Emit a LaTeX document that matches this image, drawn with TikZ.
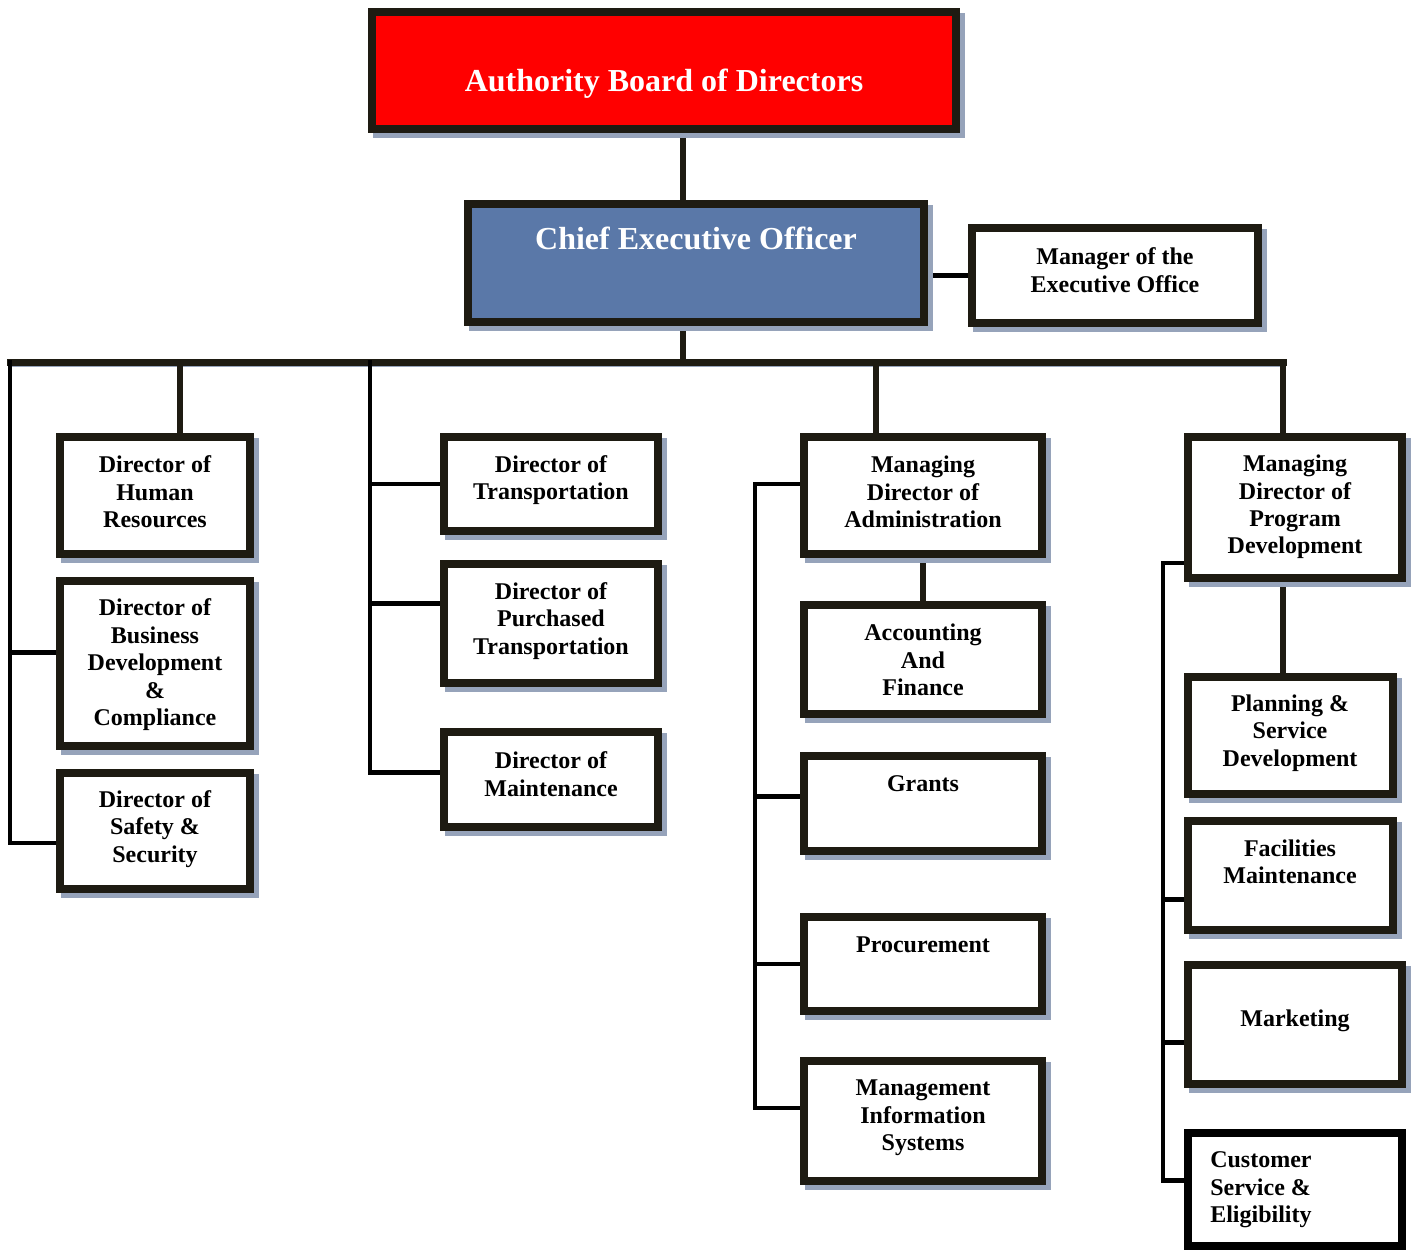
\documentclass[tikz,border=0pt]{standalone}
\usepackage{fontspec}
\setmainfont{Liberation Serif}
\usetikzlibrary{shadows,backgrounds}

\definecolor{inkline}{RGB}{30,27,18}
\definecolor{shadowblue}{RGB}{150,163,186}
\definecolor{boardred}{RGB}{255,0,0}
\definecolor{ceoblue}{RGB}{90,120,168}

\tikzset{every picture/.style={line width=0.75pt}}
\tikzset{
  orgbox/.style={draw=inkline, fill=white, line width=6pt, inner sep=0pt,
    general shadow={fill=shadowblue, draw=shadowblue, shadow xshift=3.5pt, shadow yshift=-3.5pt}},
  plainbox/.style={draw=black, fill=white, line width=6pt, inner sep=0pt},
  boxtext/.style={font=\fontsize{18}{20.6}\selectfont\bfseries, align=center, inner sep=0.75pt},
  titletext/.style={font=\fontsize{24}{28}\selectfont\bfseries, text=white, inner sep=0.75pt},
  busline/.style={draw=inkline, line width=5.25pt, line cap=rect,
    preaction={draw=shadowblue, transform canvas={xshift=1.5pt, yshift=-3pt}}},
  dropline/.style={draw=inkline, line width=4.5pt,
    preaction={draw=shadowblue, transform canvas={xshift=1.5pt, yshift=-1.5pt}}},
  armline/.style={draw=black, line width=3.5pt, line cap=rect},
}

\begin{document}
\begin{tikzpicture}[x=0.75pt,y=0.75pt,yscale=-1,xscale=1]
\useasboundingbox (0,0) rectangle (1413,1252);

%Shape: Rectangle [top row]
\node [orgbox, fill=boardred, minimum width=438pt, minimum height=87.75pt] (board) at (664,70.5) {};
\node [orgbox, fill=ceoblue, minimum width=342pt, minimum height=88.5pt] (ceo) at (696,263) {};
\node [orgbox, minimum width=214.5pt, minimum height=71.25pt] (mgr) at (1115,275.5) {};
%Shape: Rectangle [first column]
\node [orgbox, minimum width=142.5pt, minimum height=87.75pt] (hr) at (155,495.5) {};
\node [orgbox, minimum width=142.5pt, minimum height=123.75pt] (bizdev) at (155,663.5) {};
\node [orgbox, minimum width=142.5pt, minimum height=87pt] (safety) at (155,831) {};
%Shape: Rectangle [second column]
\node [orgbox, minimum width=160.5pt, minimum height=70.5pt] (trans) at (551,484) {};
\node [orgbox, minimum width=160.5pt, minimum height=89.25pt] (purch) at (551,623.5) {};
\node [orgbox, minimum width=160.5pt, minimum height=71.25pt] (maint) at (551,779.5) {};
%Shape: Rectangle [third column]
\node [orgbox, minimum width=178.5pt, minimum height=87.75pt] (admin) at (923,495.5) {};
\node [orgbox, minimum width=178.5pt, minimum height=81.75pt] (acct) at (923,659.5) {};
\node [orgbox, minimum width=178.5pt, minimum height=71.25pt] (grants) at (923,803.5) {};
\node [orgbox, minimum width=178.5pt, minimum height=70.5pt] (proc) at (923,964) {};
\node [orgbox, minimum width=178.5pt, minimum height=90pt] (mis) at (923,1121) {};
%Shape: Rectangle [fourth column]
\node [orgbox, minimum width=160.5pt, minimum height=105.75pt] (pd) at (1295,507.5) {};
\node [orgbox, minimum width=153.75pt, minimum height=87.75pt] (plan) at (1290.5,735.5) {};
\node [orgbox, minimum width=153.75pt, minimum height=81.75pt] (fac) at (1290.5,875.5) {};
\node [orgbox, minimum width=160.5pt, minimum height=89.25pt] (mkt) at (1295,1024.5) {};
\node [plainbox, minimum width=160.5pt, minimum height=84.75pt] (cust) at (1295,1189.5) {};

%Junctions on the bus and rails
\coordinate (busL) at (10,362);
\coordinate (busHR) at (180,362);
\coordinate (busOps) at (370,362);
\coordinate (busC) at (683,362);
\coordinate (busAdm) at (876,362);
\coordinate (busR) at (1283,362);
\coordinate (admRail) at (755,484);
\coordinate (pdRail) at (1163,563);

\begin{pgfonlayer}{background}
%Straight Lines [top]
\draw [dropline] (board.south -| busC) -- (ceo.north -| busC);
\draw [dropline] (ceo.south -| busC) -- (busC);
\draw [armline] (ceo.east |- mgr.west) -- (mgr.west);
\draw [busline] (busL) -- (busR);
%Straight Lines [first column]
\draw [armline] (busL) |- ([shift={(0,-11)}]bizdev.west);
\draw [armline] (busL) |- ([shift={(0,12)}]safety.west);
\draw [dropline] (busHR) -- (hr.north -| busHR);
%Straight Lines [second column]
\draw [armline] (busOps) |- (trans.west);
\draw [armline] (busOps) |- ([shift={(0,-20)}]purch.west);
\draw [armline] (busOps) |- ([shift={(0,-7)}]maint.west);
%Straight Lines [third column]
\draw [dropline] (busAdm) -- (admin.north -| busAdm);
\draw [dropline] (admin) -- (acct);
\draw [armline] (admRail -| admin.west) -- (admRail) |- ([shift={(0,-13)}]mis.west);
\draw [armline] (admRail) |- ([shift={(0,-7)}]grants.west);
\draw [armline] (admRail) |- (proc.west);
%Straight Lines [fourth column]
\draw [dropline] (busR) -- (pd.north -| busR);
\draw [dropline] (pd.south -| busR) -- (plan.north -| busR);
\draw [armline] (pdRail -| pd.west) -- (pdRail) |- ([shift={(0,-9)}]cust.west);
\draw [armline] (pdRail) |- ([shift={(0,24)}]fac.west);
\draw [armline] (pdRail) |- ([shift={(0,18)}]mkt.west);
\end{pgfonlayer}

% Text Node
\node [titletext] (board-t) at (664,84) {Authority Board of Directors};
% Text Node
\node [titletext] (ceo-t) at (696,238) {Chief Executive Officer};
% Text Node
\node [boxtext] (mgr-t) at (1115,270) {Manager of the\\Executive Office};
% Text Node
\node [boxtext] (hr-t) at (155,492) {Director of\\Human\\Resources};
% Text Node
\node [boxtext] (bizdev-t) at (155,665) {Director of\\Business\\Development\\\&\\Compliance};
% Text Node
\node [boxtext] (safety-t) at (155,829) {Director of\\Safety \&\\Security};
% Text Node
\node [boxtext] (trans-t) at (551,480) {Director of\\Transportation};
% Text Node
\node [boxtext] (purch-t) at (551,621) {Director of\\Purchased\\Transportation};
% Text Node
\node [boxtext] (maint-t) at (551,774) {Director of\\Maintenance};
% Text Node
\node [boxtext] (admin-t) at (923,492) {Managing\\Director of\\Administration};
% Text Node
\node [boxtext] (acct-t) at (923,660) {Accounting\\And\\Finance};
% Text Node
\node [boxtext] (grants-t) at (923,784) {Grants};
% Text Node
\node [boxtext] (proc-t) at (923,945) {Procurement};
% Text Node
\node [boxtext] (mis-t) at (923,1118) {Management\\Information\\Systems};
% Text Node
\node [boxtext] (pd-t) at (1295,507) {Managing\\Director of\\Program\\Development};
% Text Node
\node [boxtext] (plan-t) at (1290,733) {Planning \&\\Service\\Development};
% Text Node
\node [boxtext] (fac-t) at (1290,862) {Facilities\\Maintenance};
% Text Node
\node [boxtext] (mkt-t) at (1295,1021) {Marketing};
% Text Node
\node [boxtext, align=left, anchor=west] (cust-t) at (1209,1190) {Customer\\Service \&\\Eligibility};

\end{tikzpicture}
\end{document}
